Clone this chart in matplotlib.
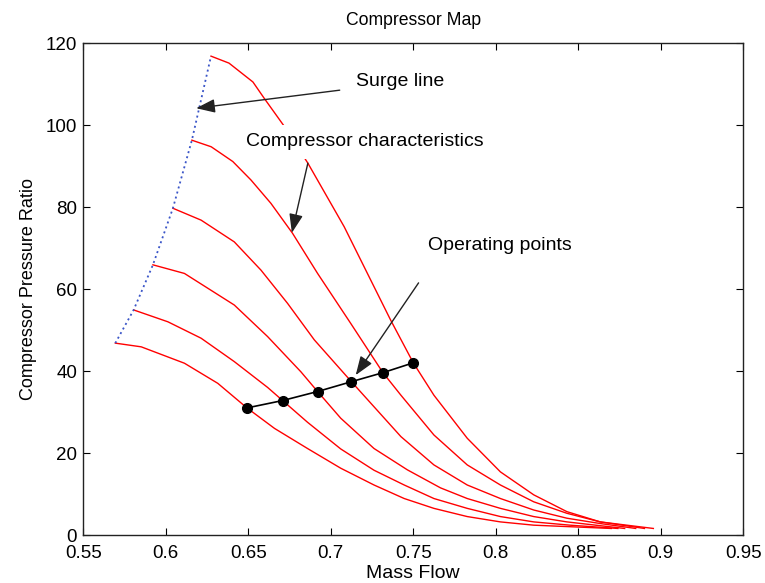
import numpy as np
import matplotlib.pyplot as plt
from matplotlib.ticker import FuncFormatter

plt.rcParams['font.family'] = ['Liberation Sans', 'DejaVu Sans']

# compressor characteristics, one per speed line
c1_x = [0.6274, 0.6383, 0.6528, 0.6595, 0.6716, 0.6861, 0.7081, 0.7363, 0.75, 0.7625, 0.7827, 0.8028, 0.823, 0.8431, 0.8633, 0.8955]
c1_y = [116.8, 115.1, 110.5, 106.6, 99.8, 90.7, 75.2, 52.4, 42.0, 34.1, 23.6, 15.4, 9.8, 5.7, 3.2, 1.6]
c2_x = [0.6158, 0.6275, 0.6406, 0.6516, 0.6637, 0.6768, 0.692, 0.7121, 0.7316, 0.7425, 0.7625, 0.7827, 0.8028, 0.823, 0.8431, 0.8633, 0.8901]
c2_y = [96.3, 94.7, 91.1, 86.6, 80.9, 73.6, 63.8, 51.6, 39.6, 34.1, 24.4, 17.1, 12.2, 8.1, 5.3, 3.2, 1.6]
c3_x = [0.6043, 0.6214, 0.6415, 0.6577, 0.6738, 0.69, 0.7125, 0.7425, 0.7625, 0.7827, 0.8028, 0.823, 0.8431, 0.8633, 0.8848]
c3_y = [79.7, 76.8, 71.5, 64.6, 56.5, 47.6, 37.4, 24.0, 17.1, 12.2, 8.9, 6.1, 4.1, 2.8, 1.6]
c4_x = [0.5922, 0.6113, 0.6415, 0.6617, 0.6819, 0.692, 0.706, 0.7262, 0.7464, 0.7665, 0.7827, 0.8028, 0.823, 0.8431, 0.8781]
c4_y = [65.9, 63.8, 56.1, 48.4, 39.8, 35.0, 28.5, 21.1, 15.9, 11.5, 8.9, 6.5, 4.5, 3.2, 1.6]
c5_x = [0.5805, 0.6013, 0.6214, 0.6415, 0.6617, 0.6708, 0.6859, 0.706, 0.7262, 0.7445, 0.7625, 0.7827, 0.8028, 0.823, 0.845, 0.874]
c5_y = [54.9, 52.0, 48.0, 42.3, 36.0, 32.8, 27.5, 21.0, 15.8, 12.2, 8.9, 6.5, 4.5, 3.2, 2.4, 1.6]
c6_x = [0.5694, 0.5851, 0.6113, 0.6315, 0.6492, 0.6659, 0.6859, 0.706, 0.7262, 0.7445, 0.7625, 0.7827, 0.8028, 0.823, 0.87]
c6_y = [46.8, 45.9, 41.9, 37.0, 31.0, 26.0, 21.1, 16.3, 12.2, 8.9, 6.5, 4.5, 3.2, 2.4, 1.6]

# surge line through the left ends of the characteristics
surge_x = [0.5694, 0.5805, 0.5922, 0.6043, 0.6158, 0.6274]
surge_y = [46.8, 54.9, 65.9, 79.7, 96.3, 116.8]

# operating points
op_x = [0.6492, 0.6708, 0.692, 0.7125, 0.7316, 0.75]
op_y = [31.0, 32.8, 35.0, 37.4, 39.6, 42.0]

xticks = [0.55, 0.6, 0.65, 0.7, 0.75, 0.8, 0.85, 0.9, 0.95]
yticks = [0, 20, 40, 60, 80, 100, 120]

fig = plt.figure(figsize=(7.65, 5.83), dpi=100)
ax = fig.add_axes([0.1089, 0.0823, 0.8627, 0.8439])

for cx, cy in [(c1_x, c1_y), (c2_x, c2_y), (c3_x, c3_y), (c4_x, c4_y), (c5_x, c5_y), (c6_x, c6_y)]:
    ax.plot(cx, cy, c="red", lw=1.0)
ax.plot(surge_x, surge_y, c="#3a55c8", ls=(0, (1.1, 1.8)), lw=1.3)
ax.plot(op_x, op_y, c="k", lw=1.2, marker="o", ms=7, mfc="k", mec="k")

ax.set_xlim(0.55, 0.95)
ax.set_ylim(0, 120)
ax.set_xticks(xticks)
ax.set_yticks(yticks)
ax.xaxis.set_major_formatter(FuncFormatter(lambda v, p: "%g" % v))
ax.tick_params(direction="in", length=5, width=0.8, top=True, right=True, labelsize=13.5)
ax.tick_params(axis="x", pad=7.5)
ax.tick_params(axis="y", pad=4.5)
for s in ax.spines.values():
    s.set_linewidth(1.0)
    s.set_color("#222222")

ax.set_xlabel("Mass Flow", fontsize=14, labelpad=1.5)
ax.set_ylabel("Compressor Pressure Ratio", fontsize=13, labelpad=6)
ax.set_title("Compressor Map", fontsize=12.7, pad=13)

box = dict(boxstyle="square,pad=0.45", fc="white", ec="none")
ap = dict(arrowstyle="-|>,head_length=1.15,head_width=0.42", color="#222222", lw=1.0, shrinkA=0, shrinkB=0)

ax.text(0.7151, 110.5, "Surge line", fontsize=14, va="center", ha="left", bbox=box, zorder=4)
ax.annotate("", xy=(0.6184, 104.1), xytext=(0.7054, 108.5), arrowprops=ap, zorder=5)

ax.text(0.6486, 95.9, "Compressor characteristics", fontsize=14, va="center", ha="left", bbox=box, zorder=4)
ax.annotate("", xy=(0.6764, 73.7), xytext=(0.6861, 90.7), arrowprops=ap, zorder=5)

ax.text(0.7592, 70.7, "Operating points", fontsize=14, va="center", ha="left", bbox=box, zorder=4)
ax.annotate("", xy=(0.7151, 39.0), xytext=(0.7532, 61.5), arrowprops=ap, zorder=5)

plt.savefig("out.png", dpi=100)
